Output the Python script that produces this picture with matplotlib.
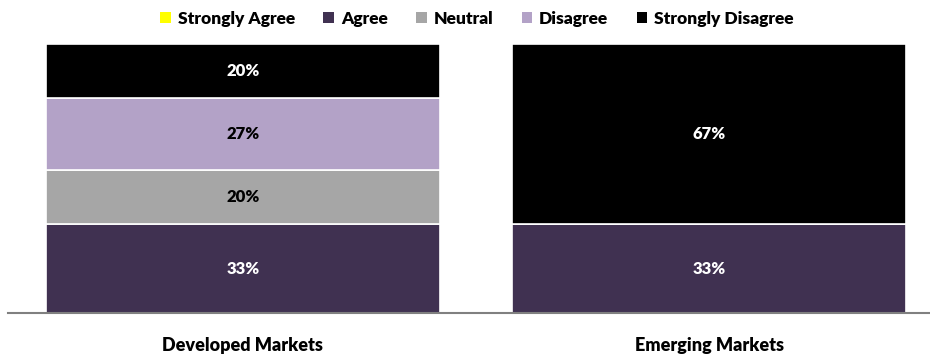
import matplotlib.pyplot as plt
from matplotlib.patches import Patch

plt.rcParams['font.family'] = ['Lato', 'DejaVu Sans']
plt.rcParams['font.weight'] = 'bold'

markets = ["Developed Markets", "Emerging Markets"]
responses = ["Strongly Agree", "Agree", "Neutral", "Disagree", "Strongly Disagree"]
colors = ["#FFFF00", "#403151", "#A6A6A6", "#B3A2C7", "#000000"]
text_colors = ["black", "white", "black", "black", "white"]

# share of answers (%) per market, in the order of responses
strongly_agree = [0, 0]
agree = [33, 33]
neutral = [20, 0]
disagree = [27, 0]
strongly_disagree = [20, 67]
shares = [strongly_agree, agree, neutral, disagree, strongly_disagree]

fig = plt.figure(figsize=(9.3, 3.58), dpi=100)
ax = fig.add_axes([8 / 930, 1 - 313 / 358, 1 - 8 / 930, 269 / 358])

x = range(len(markets))
bottom = [0, 0]
for vals, col, tcol in zip(shares, colors, text_colors):
    ax.bar(x, vals, width=0.845, bottom=bottom, color=col,
           edgecolor="white", linewidth=1.2)
    for i, v in enumerate(vals):
        if v > 0:
            ax.text(i, bottom[i] + v / 2, f"{v}%", ha="center", va="center",
                    color=tcol, fontsize=12, fontweight="heavy")
    bottom = [b + v for b, v in zip(bottom, vals)]

ax.set_xlim(-0.504, 1.474)
ax.set_ylim(0, 100)
ax.set_yticks([])
ax.set_xticks(list(x))
ax.set_xticklabels(markets, fontsize=13, fontweight="heavy")
ax.tick_params(axis="x", length=0, pad=17)
for side in ["left", "right", "top"]:
    ax.spines[side].set_visible(False)
ax.spines["bottom"].set_color("#808080")
ax.spines["bottom"].set_linewidth(1.5)

handles = [Patch(facecolor=c, edgecolor="none") for c in colors]
leg = fig.legend(handles, responses, loc="center", bbox_to_anchor=(0.513, 0.948),
                 ncol=5, frameon=False, fontsize=12.5, handlelength=0.6,
                 handleheight=0.6, handletextpad=0.4, columnspacing=1.65)
for t in leg.get_texts():
    t.set_fontweight("heavy")

fig.savefig("out.png", dpi=100)
